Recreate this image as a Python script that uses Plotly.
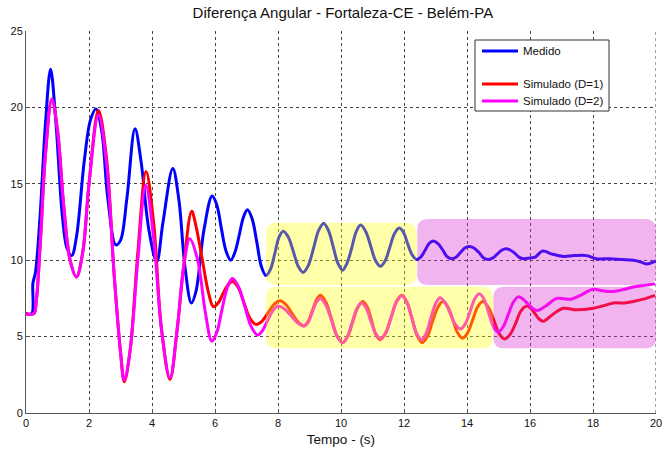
import plotly.graph_objects as go

# ---------------- data ----------------
t_med = [0, 0.18, 0.22, 0.3, 0.45, 0.62, 0.78, 0.95, 1.15, 1.3, 1.45, 1.6, 1.85, 2.05, 2.22, 2.4, 2.6, 2.85, 3.0,
         3.2, 3.46, 3.65, 3.9, 4.15, 4.35, 4.66, 4.85, 5.05, 5.25, 5.4, 5.65, 5.91,
         6.06, 6.2, 6.35, 6.5, 6.63, 6.77, 6.9, 7.03, 7.18, 7.33, 7.47, 7.62, 7.76, 7.9, 8.03, 8.17,
         8.33, 8.49, 8.64, 8.8, 8.96, 9.13, 9.29, 9.45, 9.6, 9.75, 9.9, 10.05, 10.19, 10.34, 10.48, 10.62,
         10.78, 10.94, 11.09, 11.25, 11.4, 11.55, 11.7, 11.85, 11.99, 12.12, 12.26, 12.4, 12.53, 12.67, 12.8,
         12.93, 13.07, 13.22, 13.36, 13.51, 13.65, 13.79, 13.93, 14.07, 14.22, 14.38, 14.53, 14.68, 14.82,
         14.96, 15.1, 15.24, 15.38, 15.52, 15.65, 15.79, 16.0, 16.16, 16.4, 16.7, 17.06, 17.4, 17.8, 18.1,
         18.54, 18.9, 19.28, 19.5, 19.7, 20.0]
v_med = [6.5, 6.5, 8.5, 9.2, 13, 19, 22.5, 19, 13, 10.8, 10.3, 11.5, 16.5, 19.2, 19.9, 18.5, 14, 11.0, 11.3,
         14, 18.6, 16.5, 12, 9.9, 12.5, 16.0, 14, 9.5, 7.2, 8, 12, 14.2,
         13.6, 12.1, 10.6, 10.0, 10.5, 11.65, 12.8, 13.3, 12.7, 11.15, 9.6, 9.0, 9.4, 10.45, 11.5, 11.9,
         11.5, 10.55, 9.6, 9.2, 9.65, 10.8, 11.95, 12.4, 11.95, 10.9, 9.8, 9.35, 9.8, 10.8, 11.85, 12.3,
         11.9, 10.95, 10.0, 9.6, 9.95, 10.85, 11.75, 12.1, 11.8, 11.05, 10.35, 10.05, 10.2, 10.65, 11.1,
         11.25, 11.1, 10.7, 10.25, 10.1, 10.2, 10.5, 10.8, 10.9, 10.8, 10.5, 10.15, 10.05, 10.15,
         10.4, 10.65, 10.75, 10.65, 10.45, 10.2, 10.1, 10.15, 10.2, 10.6, 10.4, 10.25, 10.3, 10.3, 10.1,
         10.1, 10.05, 10.0, 9.9, 9.75, 9.95]

t_d1 = [0, 0.25, 0.32, 0.45, 0.62, 0.82, 1.0, 1.2, 1.4, 1.6, 1.8, 2.0, 2.3, 2.55, 2.8, 3.0, 3.12, 3.3, 3.55,
        3.81, 4.05, 4.3, 4.57, 4.8, 5.0, 5.26, 5.4, 5.6, 5.78, 5.95,
        6.1, 6.25, 6.4, 6.55, 6.74, 6.92, 7.11, 7.3, 7.49, 7.68, 7.87, 8.06, 8.25, 8.45, 8.64, 8.83,
        8.96, 9.09, 9.22, 9.35, 9.52, 9.7, 9.87, 10.05, 10.21, 10.37, 10.53, 10.69, 10.83, 10.97, 11.1, 11.24,
        11.41, 11.59, 11.76, 11.93, 12.09, 12.26, 12.42, 12.58, 12.74, 12.9, 13.07, 13.23, 13.39, 13.55, 13.7,
        13.86, 14.02, 14.18, 14.34, 14.5, 14.67, 14.85, 15.02, 15.2, 15.37, 15.55, 15.72, 15.9, 16.03, 16.16,
        16.29, 16.42, 16.75, 17.06, 17.48, 18.0, 18.3, 18.65, 19.0, 19.28, 19.6, 19.97]
v_d1 = [6.5, 6.5, 7.2, 11, 17, 20.55, 18.5, 13.5, 10, 8.9, 10.5, 15, 19.8, 16.8, 9, 4, 2.05, 4, 10.5,
        15.8, 12.5, 5.5, 2.2, 5.5, 9.5, 13.2, 12.2, 10, 8.0, 6.95,
        7.2, 7.8, 8.35, 8.6, 8.2, 7.2, 6.2, 5.8, 6.0, 6.55, 7.1, 7.35, 7.1, 6.5, 5.95, 5.7,
        6.0, 6.7, 7.4, 7.7, 7.25, 6.15, 5.05, 4.6, 5.0, 5.95, 6.9, 7.3, 6.95, 6.05, 5.15, 4.8,
        5.2, 6.25, 7.3, 7.7, 7.25, 6.15, 5.05, 4.6, 5.0, 5.95, 6.9, 7.3, 6.95, 6.1, 5.25,
        4.9, 5.25, 6.1, 6.95, 7.3, 6.95, 6.1, 5.2, 4.85, 5.15, 5.9, 6.7, 7.0, 6.85, 6.5,
        6.15, 6.0, 6.5, 6.85, 6.75, 6.85, 7.0, 7.2, 7.2, 7.3, 7.45, 7.7]

t_d2 = [0, 0.25, 0.32, 0.45, 0.62, 0.82, 1.0, 1.2, 1.4, 1.6, 1.8, 2.0, 2.3, 2.55, 2.8, 3.0, 3.12, 3.3, 3.55,
        3.8, 4.05, 4.3, 4.57, 4.8, 5.0, 5.2, 5.45, 5.7, 5.9,
        6.06, 6.22, 6.39, 6.55, 6.75, 6.95, 7.15, 7.35, 7.51, 7.67, 7.84, 8.0, 8.21, 8.42, 8.62, 8.83,
        8.96, 9.09, 9.22, 9.35, 9.52, 9.7, 9.87, 10.05, 10.2, 10.35, 10.5, 10.65, 10.8, 10.95, 11.1, 11.25,
        11.42, 11.59, 11.76, 11.93, 12.09, 12.25, 12.4, 12.56, 12.7, 12.85, 13.0, 13.14, 13.3, 13.47, 13.63,
        13.8, 13.95, 14.1, 14.24, 14.39, 14.54, 14.69, 14.84, 14.99, 15.15, 15.31, 15.47, 15.63, 15.78, 15.93,
        16.08, 16.23, 16.5, 16.85, 17.3, 17.6, 18.0, 18.3, 18.65, 19.0, 19.28, 19.6, 19.97]
v_d2 = [6.5, 6.5, 7.2, 11, 17, 20.55, 18.5, 13.5, 10, 8.9, 10.5, 15, 19.5, 16.5, 9, 4, 2.15, 4, 10,
        14.9, 11.5, 5.5, 2.3, 5.5, 9.5, 11.4, 10, 6.5, 4.7,
        5.3, 6.75, 8.2, 8.8, 8.25, 6.95, 5.65, 5.1, 5.4, 6.05, 6.7, 7.0, 6.8, 6.35, 5.9, 5.7,
        5.95, 6.6, 7.25, 7.5, 7.05, 6.05, 5.05, 4.6, 5.0, 5.9, 6.8, 7.2, 6.85, 6.0, 5.2, 4.85,
        5.25, 6.25, 7.25, 7.65, 7.25, 6.2, 5.2, 4.8, 5.2, 6.2, 7.15, 7.55, 7.25, 6.5, 5.8,
        5.5, 5.85, 6.65, 7.45, 7.8, 7.45, 6.55, 5.65, 5.3, 5.65, 6.45, 7.25, 7.6, 7.45, 7.15,
        6.85, 6.7, 7.0, 7.5, 7.45, 7.7, 8.1, 8.0, 7.95, 8.1, 8.25, 8.35, 8.45]

series_names = ["Medido", "Simulado (D=1)", "Simulado (D=2)"]
series_colors = ["#0000FF", "#FF0000", "#FF00FF"]

# highlighted regions: (x0, x1, y0, y1)
yellow_regions = [(7.62, 12.4, 8.38, 12.45), (7.62, 14.83, 4.23, 8.27)]
pink_regions = [(12.42, 20.0, 8.38, 12.7), (14.84, 20.0, 4.23, 8.27)]

x_ticks = list(range(0, 21, 2))
y_ticks = list(range(0, 26, 5))

# ---------------- figure ----------------
W, H = 662, 449
ML, MR, MT, MB = 26, 6, 31, 36
PW, PH = W - ML - MR, H - MT - MB


def px_x(px):
    return (px - ML) / PW


def px_y(py):
    return (H - MB - py) / PH


fig = go.Figure()
for tx, vy, nm, col in [(t_med, v_med, series_names[0], series_colors[0]),
                        (t_d1, v_d1, series_names[1], series_colors[1]),
                        (t_d2, v_d2, series_names[2], series_colors[2])]:
    fig.add_trace(go.Scatter(x=tx, y=vy, mode="lines", name=nm, showlegend=False,
                             line=dict(color=col, width=3, shape="spline", smoothing=1.0)))


def rounded_path(x0, x1, y0, y1, rx=0.35, ry=0.7):
    return (f"M {x0+rx},{y0} L {x1-rx},{y0} Q {x1},{y0} {x1},{y0+ry} "
            f"L {x1},{y1-ry} Q {x1},{y1} {x1-rx},{y1} L {x0+rx},{y1} "
            f"Q {x0},{y1} {x0},{y1-ry} L {x0},{y0+ry} Q {x0},{y0} {x0+rx},{y0} Z")


for (x0, x1, y0, y1) in yellow_regions:
    fig.add_shape(type="path", path=rounded_path(x0, x1, y0, y1), xref="x", yref="y",
                  fillcolor="rgb(255,255,12)", opacity=0.35, line=dict(width=0), layer="above")
for (x0, x1, y0, y1) in pink_regions:
    fig.add_shape(type="path", path=rounded_path(x0, x1, y0, y1), xref="x", yref="y",
                  fillcolor="rgb(218,41,206)", opacity=0.35, line=dict(width=0), layer="above")

# right-edge dotted grid line at x = 20
fig.add_shape(type="line", xref="x", yref="paper", x0=20, x1=20, y0=0, y1=1,
              line=dict(color="#444", width=1, dash="dot"), layer="below")

# legend box (MATLAB style, with blank row)
fig.add_shape(type="rect", xref="paper", yref="paper", x0=px_x(475), x1=px_x(609),
              y0=px_y(111), y1=px_y(40), fillcolor="white", line=dict(color="#333", width=1),
              layer="above")
leg_rows = [51, 84, 101]
for name, col, ry in zip(series_names, series_colors, leg_rows):
    fig.add_shape(type="line", xref="paper", yref="paper", x0=px_x(482), x1=px_x(518),
                  y0=px_y(ry), y1=px_y(ry), line=dict(color=col, width=3), layer="above")
    fig.add_annotation(text=name, xref="paper", yref="paper", x=px_x(521), y=px_y(ry),
                       xanchor="left", yanchor="middle", showarrow=False,
                       font=dict(size=11.5, color="#111"))

fig.update_layout(
    width=W, height=H,
    margin=dict(l=ML, r=MR, t=MT, b=MB, autoexpand=False),
    paper_bgcolor="white", plot_bgcolor="white",
    font=dict(family="Arial, Liberation Sans, sans-serif", color="#111", size=11),
    title=dict(text="Diferença Angular - Fortaleza-CE - Belém-PA", x=0.518,
               xanchor="center", y=0.972, yanchor="middle", font=dict(size=15, color="#111")),
    showlegend=False,
)
fig.update_xaxes(range=[0, 20], tickvals=x_ticks, showgrid=True, griddash="dot", gridcolor="#444",
                 gridwidth=1, showline=True, linecolor="#555", linewidth=1, zeroline=False,
                 ticks="inside", ticklen=4, tickcolor="#555", ticklabeloverflow="allow",
                 automargin=False,
                 title=dict(text="Tempo - (s)", font=dict(size=13.5, color="#111"), standoff=6))
fig.update_yaxes(range=[0, 25], tickvals=y_ticks, showgrid=True, griddash="dot", gridcolor="#444",
                 gridwidth=1, showline=True, linecolor="#555", linewidth=1, zeroline=False,
                 ticks="inside", ticklen=4, tickcolor="#555", automargin=False)

fig.write_html("out.html")
